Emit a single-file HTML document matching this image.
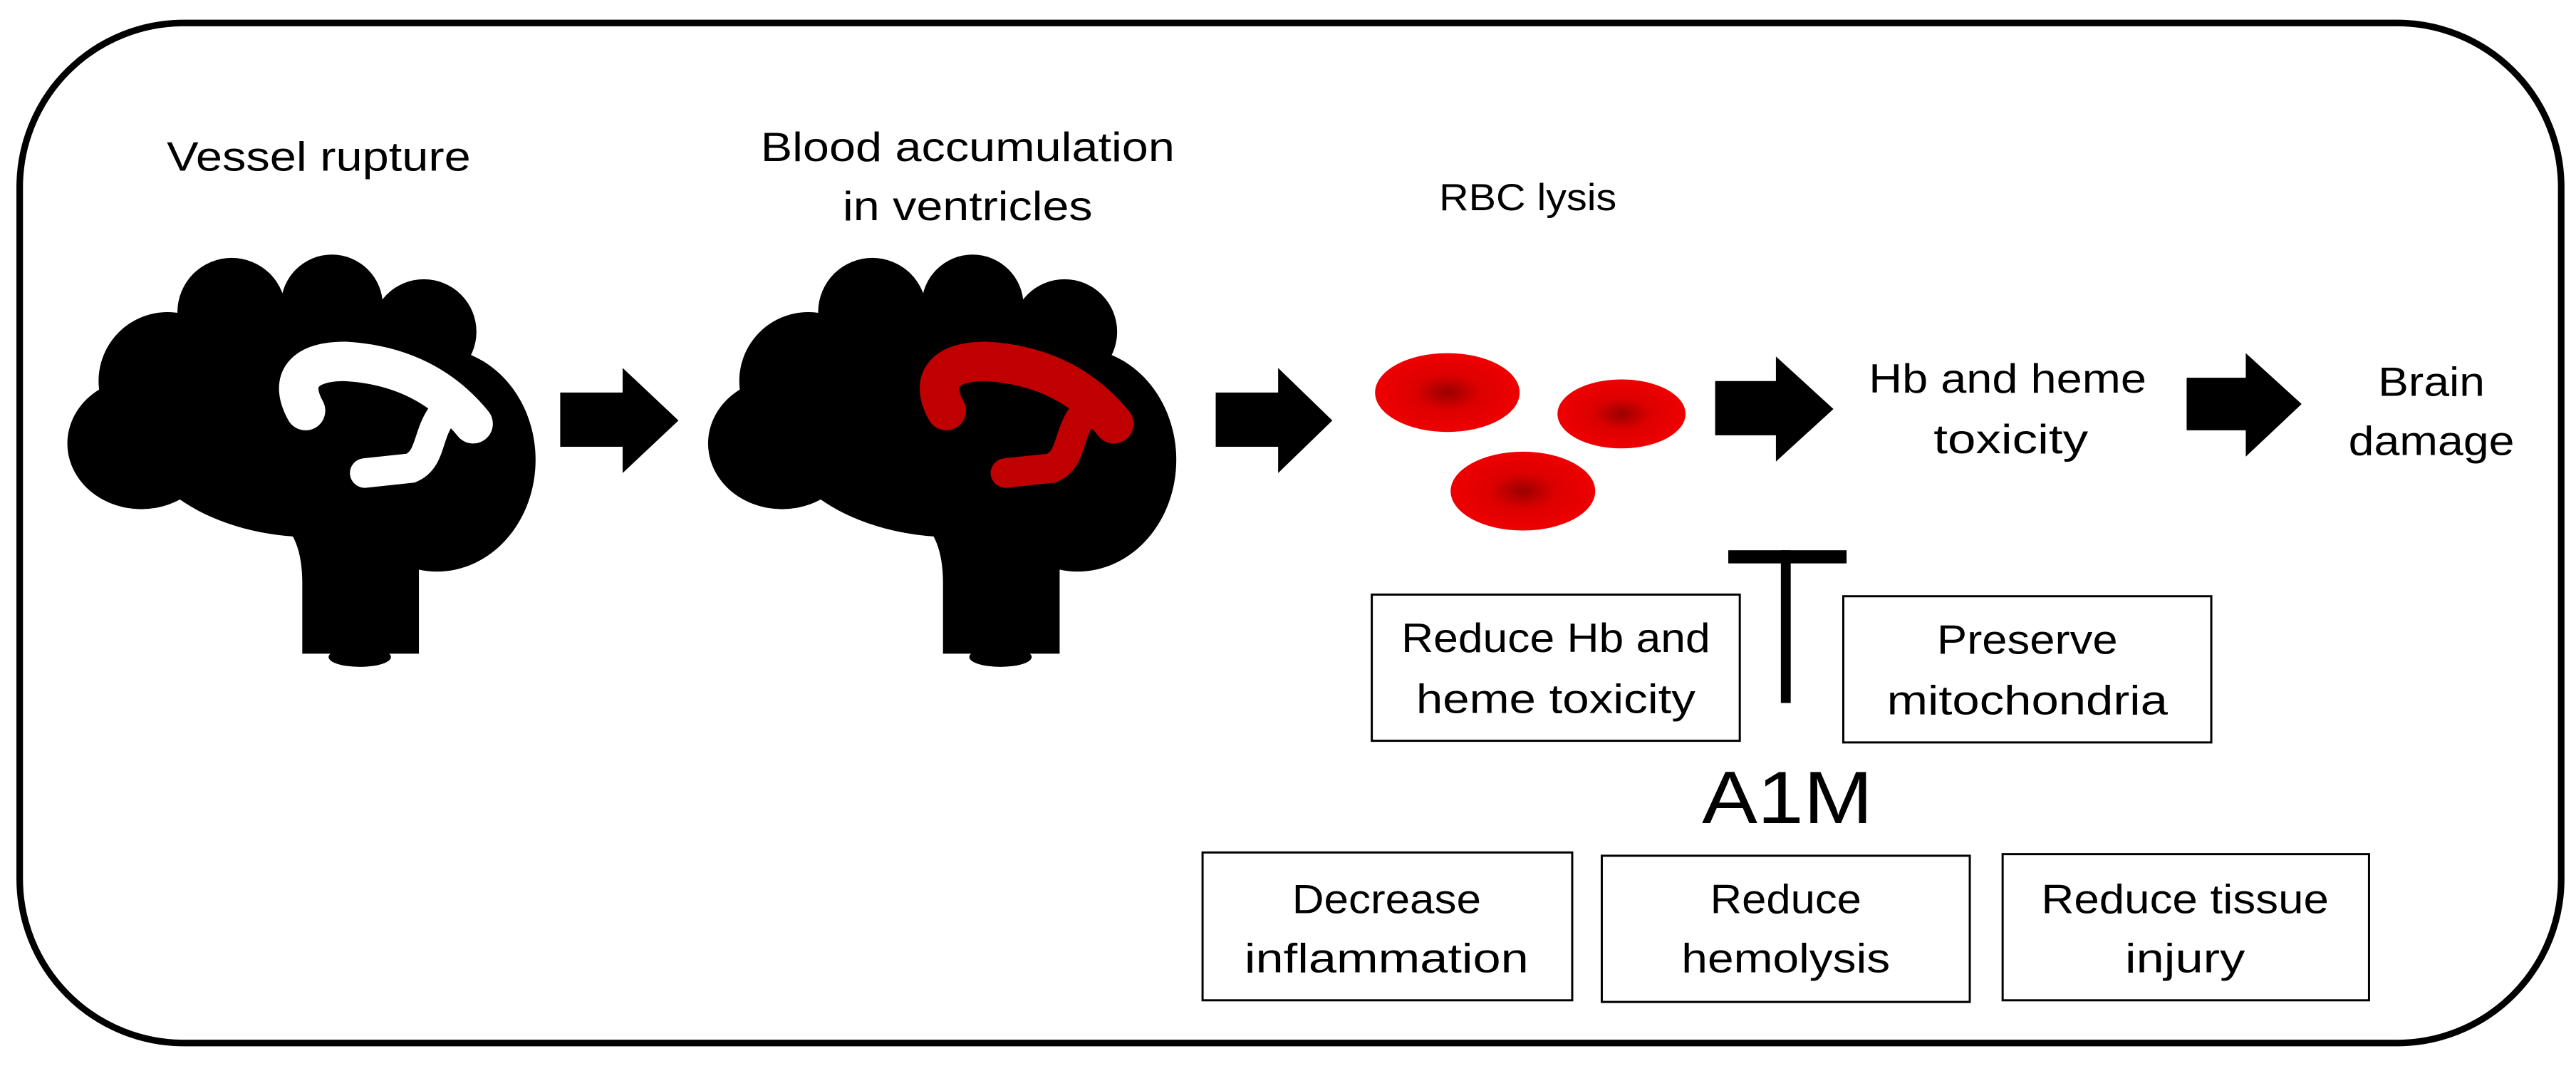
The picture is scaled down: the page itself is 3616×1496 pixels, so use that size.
<!DOCTYPE html>
<html><head><meta charset="utf-8"><style>
html,body{margin:0;padding:0;background:#fff;}
svg{display:block;}
text{font-family:"Liberation Sans",sans-serif;fill:#000;}
</style></head><body>
<svg width="3616" height="1496" viewBox="0 0 1568 649" preserveAspectRatio="none" xmlns="http://www.w3.org/2000/svg">
<defs>
<radialGradient id="rbc" cx="50%" cy="50%" r="50%">
<stop offset="0" stop-color="#9a0000"/>
<stop offset="0.45" stop-color="#dd0000"/>
<stop offset="1" stop-color="#ee0000"/>
</radialGradient>
<g id="brain">
<circle cx="141" cy="190" r="33"/>
<circle cx="202" cy="186" r="31"/>
<circle cx="258" cy="202" r="32"/>
<circle cx="102" cy="232" r="42"/>
<ellipse cx="86" cy="270" rx="45" ry="40"/>
<ellipse cx="266" cy="280" rx="60" ry="68"/>
<ellipse cx="190" cy="255" rx="110" ry="72"/>
<path d="M80 300 L150 310 Q184 312 184 355 L184 398 L255 398 L255 340 L200 250 L80 260 Z"/>
<ellipse cx="219" cy="400" rx="19" ry="6"/>
</g>
</defs>
<rect x="12" y="14" width="1547" height="621" rx="100" ry="100" fill="none" stroke="#000" stroke-width="4"/>

<text x="194" y="104" font-size="25" text-anchor="middle" textLength="185" lengthAdjust="spacingAndGlyphs">Vessel rupture</text>
<text x="589" y="98" font-size="25" text-anchor="middle" textLength="252" lengthAdjust="spacingAndGlyphs">Blood accumulation</text>
<text x="589" y="134" font-size="25" text-anchor="middle" textLength="152" lengthAdjust="spacingAndGlyphs">in ventricles</text>
<text x="930" y="128" font-size="23" text-anchor="middle" textLength="108" lengthAdjust="spacingAndGlyphs">RBC lysis</text>
<text x="1222" y="239" font-size="25" text-anchor="middle" textLength="169" lengthAdjust="spacingAndGlyphs">Hb and heme</text>
<text x="1224" y="276" font-size="25" text-anchor="middle" textLength="94" lengthAdjust="spacingAndGlyphs">toxicity</text>
<text x="1480" y="241" font-size="25" text-anchor="middle" textLength="65" lengthAdjust="spacingAndGlyphs">Brain</text>
<text x="1480" y="277" font-size="25" text-anchor="middle" textLength="101" lengthAdjust="spacingAndGlyphs">damage</text>

<!-- brain 1 -->
<use href="#brain" fill="#000"/>
<path d="M186 250 C176 232,184 220,210 220 C245 222,270 236,288 258" fill="none" stroke="#fff" stroke-width="24" stroke-linecap="round"/>
<path d="M268 254 C260 266,262 280,250 285 L222 288" fill="none" stroke="#fff" stroke-width="18" stroke-linecap="round"/>
<!-- brain 2 -->
<g transform="translate(390,0)">
<use href="#brain" fill="#000"/>
<path d="M186 250 C176 232,184 220,210 220 C245 222,270 236,288 258" fill="none" stroke="#c00000" stroke-width="24" stroke-linecap="round"/>
<path d="M268 254 C260 266,262 280,250 285 L222 288" fill="none" stroke="#c00000" stroke-width="18" stroke-linecap="round"/>
</g>

<!-- arrows -->
<polygon points="341,239 379,239 379,224 413,256 379,288 379,272 341,272" fill="#000"/>
<polygon points="740,239 778,239 778,224 811,256 778,288 778,272 740,272" fill="#000"/>
<polygon points="1044,232 1081,232 1081,217 1116,249 1081,281 1081,265 1044,265" fill="#000"/>
<polygon points="1331,230 1367,230 1367,215 1401,246 1367,278 1367,262 1331,262" fill="#000"/>

<!-- RBCs -->
<ellipse cx="881" cy="239" rx="44" ry="24" fill="url(#rbc)"/>
<ellipse cx="987" cy="252" rx="39" ry="21" fill="url(#rbc)"/>
<ellipse cx="927" cy="299" rx="44" ry="24" fill="url(#rbc)"/>

<!-- T bar -->
<rect x="1052" y="335" width="72" height="8" fill="#000"/>
<rect x="1084" y="335" width="6" height="93" fill="#000"/>

<!-- boxes -->
<g fill="none" stroke="#000" stroke-width="1.3">
<rect x="835" y="362" width="224" height="89"/>
<rect x="1122" y="363" width="224" height="89"/>
<rect x="732" y="519" width="225" height="90"/>
<rect x="975" y="521" width="224" height="89"/>
<rect x="1219" y="520" width="223" height="89"/>
</g>
<g font-size="25" text-anchor="middle">
<text x="947" y="397" textLength="188" lengthAdjust="spacingAndGlyphs">Reduce Hb and</text>
<text x="947" y="434" textLength="170" lengthAdjust="spacingAndGlyphs">heme toxicity</text>
<text x="1234" y="398" textLength="110" lengthAdjust="spacingAndGlyphs">Preserve</text>
<text x="1234" y="435" textLength="171" lengthAdjust="spacingAndGlyphs">mitochondria</text>
<text x="844" y="556" textLength="115" lengthAdjust="spacingAndGlyphs">Decrease</text>
<text x="844" y="592" textLength="173" lengthAdjust="spacingAndGlyphs">inflammation</text>
<text x="1087" y="556" textLength="92" lengthAdjust="spacingAndGlyphs">Reduce</text>
<text x="1087" y="592" textLength="127" lengthAdjust="spacingAndGlyphs">hemolysis</text>
<text x="1330" y="556" textLength="175" lengthAdjust="spacingAndGlyphs">Reduce tissue</text>
<text x="1330" y="592" textLength="73" lengthAdjust="spacingAndGlyphs">injury</text>
</g>
<text x="1088" y="501" font-size="45" text-anchor="middle" textLength="104" lengthAdjust="spacingAndGlyphs">A1M</text>
</svg>
</body></html>
